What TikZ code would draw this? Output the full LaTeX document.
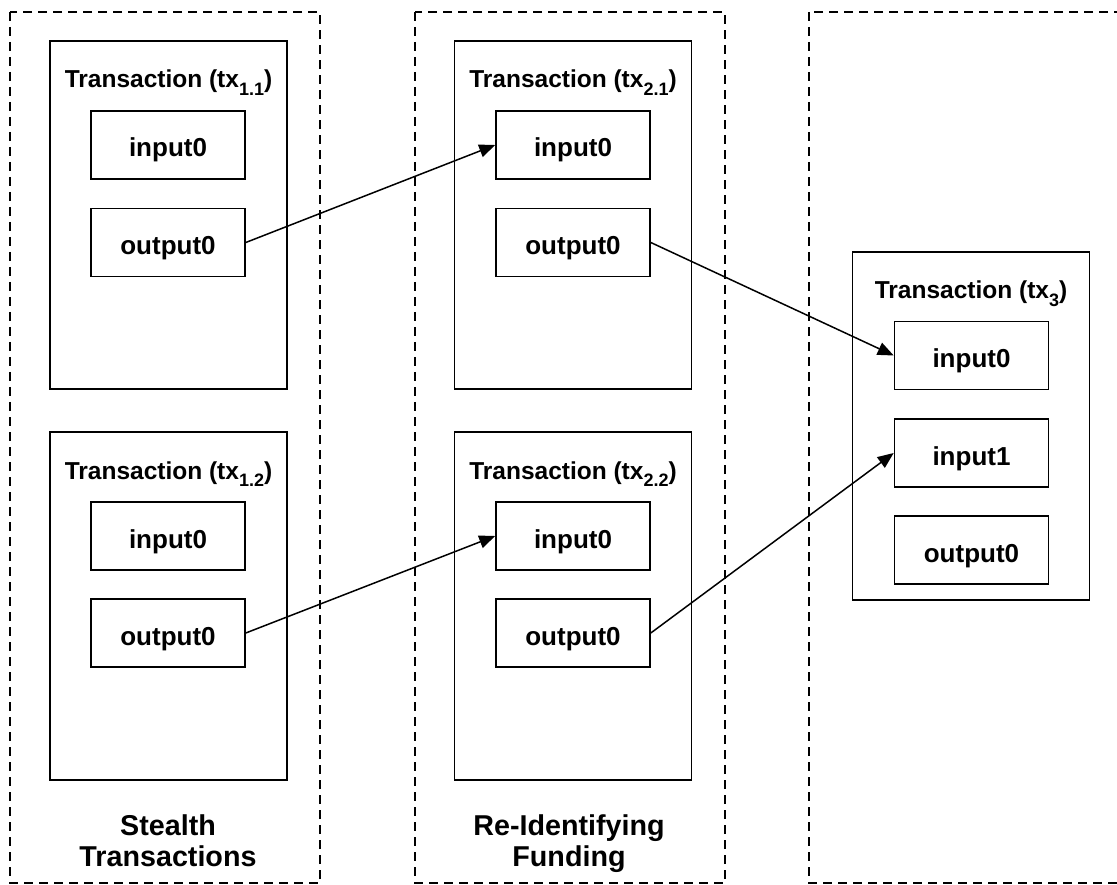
\documentclass[tikz,border=0pt]{standalone}
\usepackage{fontspec}
\setmainfont{Liberation Sans}
\usetikzlibrary{arrows.meta}

\newcommand{\txsub}[1]{\raisebox{-0.3em}{\fontsize{18}{18}\selectfont #1}}

\tikzset{
  column/.style={draw, line width=1.8pt, dash pattern=on 9pt off 6pt},
  txbox/.style={draw, line width=1.6pt, minimum width=237pt, minimum height=348pt, inner sep=0pt},
  slot/.style={draw, line width=1.6pt, minimum width=154pt, minimum height=68pt, inner sep=0pt,
    text height=24pt, text depth=0pt, font=\fontsize{26}{26}\selectfont\bfseries},
  txtitle/.style={font=\fontsize{24.5}{24.5}\selectfont\bfseries, inner sep=0pt, anchor=base},
  collabel/.style={font=\fontsize{28.7}{28.7}\selectfont\bfseries, inner sep=0pt, anchor=base},
  link/.style={line width=1.5pt, -{Triangle[length=16pt, width=13pt]}}
}

\begin{document}
\begin{tikzpicture}[x=1pt, y=-1pt]
  \useasboundingbox (0,0) rectangle (1117,885);
  \clip (0,0) rectangle (1117,885);

  % dashed columns
  \draw[column] (10,12) rectangle (320,883);
  \draw[column] (415,12) rectangle (725,883);
  \draw[column] (809,12) rectangle (1130,883);

  % column captions
  \node[collabel] (lab1a) at (168,835) {Stealth};
  \node[collabel] (lab1b) at (168,866) {Transactions};
  \node[collabel] (lab2a) at (569,835) {Re-Identifying};
  \node[collabel] (lab2b) at (569,866) {Funding};

  % transaction tx1.1
  \node[txbox] (t11) at (168.5,215) {};
  \node[txtitle] (t11t) at (168.5,88) {Transaction (tx\txsub{1.1})};
  \node[slot] (t11i) at (168,145) {input0};
  \node[slot] (t11o) at (168,242.5) {output0};

  % transaction tx1.2
  \node[txbox] (t12) at (168.5,606) {};
  \node[txtitle] (t12t) at (168.5,479) {Transaction (tx\txsub{1.2})};
  \node[slot] (t12i) at (168,536) {input0};
  \node[slot] (t12o) at (168,633) {output0};

  % transaction tx2.1
  \node[txbox] (t21) at (573,215) {};
  \node[txtitle] (t21t) at (573,88) {Transaction (tx\txsub{2.1})};
  \node[slot] (t21i) at (573,145) {input0};
  \node[slot] (t21o) at (573,242.5) {output0};

  % transaction tx2.2
  \node[txbox] (t22) at (573,606) {};
  \node[txtitle] (t22t) at (573,479) {Transaction (tx\txsub{2.2})};
  \node[slot] (t22i) at (573,536) {input0};
  \node[slot] (t22o) at (573,633) {output0};

  % transaction tx3
  \node[txbox] (t3) at (971,426) {};
  \node[txtitle] (t3t) at (971,299) {Transaction (tx\txsub{3})};
  \node[slot] (t3i0) at (971.5,355.5) {input0};
  \node[slot] (t3i1) at (971.5,453) {input1};
  \node[slot] (t3o) at (971.5,550) {output0};

  % spending links
  \draw[link] (t11o.east) -- (t21i.west);
  \draw[link] (t12o.east) -- (t22i.west);
  \draw[link] (t21o.east) -- (t3i0.west);
  \draw[link] (t22o.east) -- (t3i1.west);
\end{tikzpicture}
\end{document}
